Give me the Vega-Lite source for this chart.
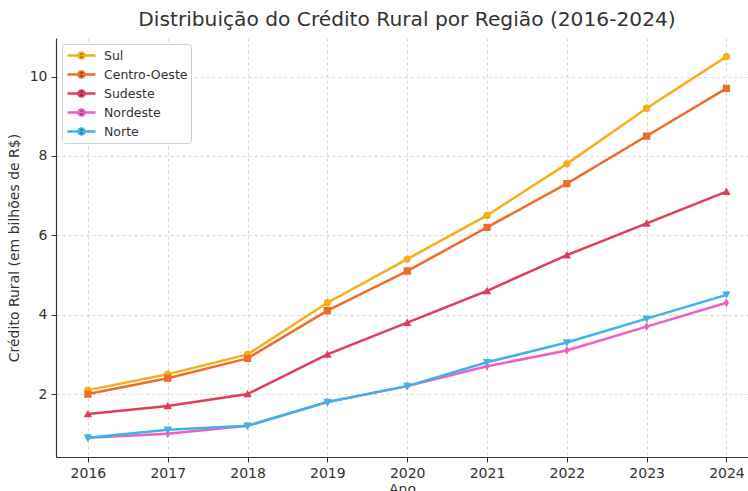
{
  "$schema": "https://vega.github.io/schema/vega-lite/v6.json",
  "width": 692,
  "height": 419,
  "autosize": {"type": "none"},
  "padding": {"left": 56, "top": 38, "right": 0, "bottom": 34},
  "background": "white",
  "title": {
    "text": "Distribuição do Crédito Rural por Região (2016-2024)",
    "font": "DejaVu Sans",
    "fontSize": 20.2,
    "fontWeight": "normal",
    "color": "#333333",
    "offset": 8,
    "dx": 5,
    "anchor": "middle"
  },
  "config": {
    "view": {"stroke": null},
    "font": "DejaVu Sans",
    "axis": {
      "labelFont": "DejaVu Sans",
      "titleFont": "DejaVu Sans",
      "labelFontSize": 14,
      "titleFontSize": 14,
      "titleFontWeight": "normal",
      "labelColor": "#333333",
      "titleColor": "#333333",
      "domainColor": "#333333",
      "domainWidth": 1.2,
      "tickColor": "#333333",
      "tickSize": 5,
      "tickWidth": 1,
      "gridColor": "#cccccc",
      "gridDash": [3, 3],
      "gridWidth": 0.8
    }
  },
  "data": {
    "values": [
      {"ano": 2016, "regiao": "Sul", "valor": 2.1},
      {"ano": 2017, "regiao": "Sul", "valor": 2.5},
      {"ano": 2018, "regiao": "Sul", "valor": 3.0},
      {"ano": 2019, "regiao": "Sul", "valor": 4.3},
      {"ano": 2020, "regiao": "Sul", "valor": 5.4},
      {"ano": 2021, "regiao": "Sul", "valor": 6.5},
      {"ano": 2022, "regiao": "Sul", "valor": 7.8},
      {"ano": 2023, "regiao": "Sul", "valor": 9.2},
      {"ano": 2024, "regiao": "Sul", "valor": 10.5},
      {"ano": 2016, "regiao": "Centro-Oeste", "valor": 2.0},
      {"ano": 2017, "regiao": "Centro-Oeste", "valor": 2.4},
      {"ano": 2018, "regiao": "Centro-Oeste", "valor": 2.9},
      {"ano": 2019, "regiao": "Centro-Oeste", "valor": 4.1},
      {"ano": 2020, "regiao": "Centro-Oeste", "valor": 5.1},
      {"ano": 2021, "regiao": "Centro-Oeste", "valor": 6.2},
      {"ano": 2022, "regiao": "Centro-Oeste", "valor": 7.3},
      {"ano": 2023, "regiao": "Centro-Oeste", "valor": 8.5},
      {"ano": 2024, "regiao": "Centro-Oeste", "valor": 9.7},
      {"ano": 2016, "regiao": "Sudeste", "valor": 1.5},
      {"ano": 2017, "regiao": "Sudeste", "valor": 1.7},
      {"ano": 2018, "regiao": "Sudeste", "valor": 2.0},
      {"ano": 2019, "regiao": "Sudeste", "valor": 3.0},
      {"ano": 2020, "regiao": "Sudeste", "valor": 3.8},
      {"ano": 2021, "regiao": "Sudeste", "valor": 4.6},
      {"ano": 2022, "regiao": "Sudeste", "valor": 5.5},
      {"ano": 2023, "regiao": "Sudeste", "valor": 6.3},
      {"ano": 2024, "regiao": "Sudeste", "valor": 7.1},
      {"ano": 2016, "regiao": "Nordeste", "valor": 0.9},
      {"ano": 2017, "regiao": "Nordeste", "valor": 1.0},
      {"ano": 2018, "regiao": "Nordeste", "valor": 1.2},
      {"ano": 2019, "regiao": "Nordeste", "valor": 1.8},
      {"ano": 2020, "regiao": "Nordeste", "valor": 2.2},
      {"ano": 2021, "regiao": "Nordeste", "valor": 2.7},
      {"ano": 2022, "regiao": "Nordeste", "valor": 3.1},
      {"ano": 2023, "regiao": "Nordeste", "valor": 3.7},
      {"ano": 2024, "regiao": "Nordeste", "valor": 4.3},
      {"ano": 2016, "regiao": "Norte", "valor": 0.9},
      {"ano": 2017, "regiao": "Norte", "valor": 1.1},
      {"ano": 2018, "regiao": "Norte", "valor": 1.2},
      {"ano": 2019, "regiao": "Norte", "valor": 1.8},
      {"ano": 2020, "regiao": "Norte", "valor": 2.2},
      {"ano": 2021, "regiao": "Norte", "valor": 2.8},
      {"ano": 2022, "regiao": "Norte", "valor": 3.3},
      {"ano": 2023, "regiao": "Norte", "valor": 3.9},
      {"ano": 2024, "regiao": "Norte", "valor": 4.5}
    ]
  },
  "encoding": {
    "x": {
      "field": "ano",
      "type": "quantitative",
      "scale": {"domain": [2015.6, 2024.27], "nice": false, "zero": false},
      "axis": {
        "title": "Ano",
        "values": [2016, 2017, 2018, 2019, 2020, 2021, 2022, 2023, 2024],
        "format": "d",
        "labelPadding": 4,
        "titlePadding": 2
      }
    },
    "y": {
      "field": "valor",
      "type": "quantitative",
      "scale": {"domain": [0.415, 10.97], "nice": false, "zero": false},
      "axis": {
        "title": "Crédito Rural (em bilhões de R$)",
        "values": [2, 4, 6, 8, 10],
        "labelPadding": 4,
        "titlePadding": 8
      }
    },
    "color": {
      "field": "regiao",
      "type": "nominal",
      "scale": {
        "domain": ["Sul", "Centro-Oeste", "Sudeste", "Nordeste", "Norte"],
        "range": ["#f8ae1c", "#ee6c2c", "#e03c5c", "#ee5ec6", "#3cb4ea"]
      },
      "legend": {
        "title": null,
        "orient": "top-left",
        "offset": 6,
        "padding": 3,
        "fillColor": "white",
        "strokeColor": "#d0d0d0",
        "cornerRadius": 3,
        "labelFont": "DejaVu Sans",
        "labelFontSize": 12.5,
        "labelColor": "#333333",
        "symbolType": "M-2,0H2M0.45,0A0.45,0.45,0,1,1,-0.45,0A0.45,0.45,0,1,1,0.45,0Z",
        "symbolSize": 196,
        "symbolStrokeWidth": 2.4,
        "symbolOffset": 8,
        "rowPadding": 2,
        "labelOffset": 14
      }
    }
  },
  "layer": [
    {
      "mark": {"type": "line", "strokeWidth": 2.5}
    },
    {
      "mark": {"type": "point", "filled": false, "size": 34, "strokeWidth": 1.5, "opacity": 1},
      "encoding": {
        "fill": {
          "field": "regiao",
          "type": "nominal",
          "scale": {"range": ["#ee6c2c", "#ee5ec6", "#3cb4ea", "#e03c5c", "#f8ae1c"]},
          "legend": null
        },
        "shape": {
          "field": "regiao",
          "type": "nominal",
          "scale": {
            "range": ["square", "M0,-1L0.6,0L0,1L-0.6,0Z", "triangle-down", "triangle-up", "circle"]
          },
          "legend": null
        }
      }
    }
  ]
}
